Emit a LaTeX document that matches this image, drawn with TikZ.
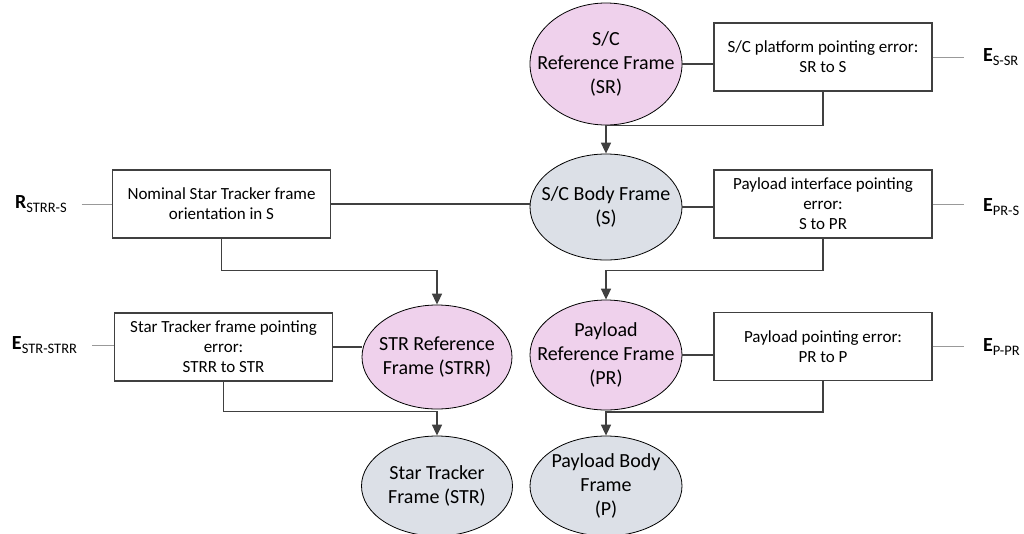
\documentclass[tikz,border=0pt]{standalone}
\usepackage{fontspec}
\setmainfont{Carlito}
\usetikzlibrary{arrows.meta,shapes.geometric}
\definecolor{refpink}{RGB}{239,209,236}
\definecolor{bodygray}{RGB}{220,224,231}
\definecolor{linegray}{RGB}{64,64,64}
\newcommand{\errlbl}[2]{\textbf{#1}\raisebox{-3.5pt}{\fontsize{14.5}{14.5}\selectfont #2}}

\begin{document}
\begin{tikzpicture}[x=1pt,y=-1pt,
  frame/.style={draw=black,line width=0.8pt,ellipse,inner xsep=-25pt,inner ysep=-15pt,align=center,
    font=\fontsize{20}{24}\selectfont,minimum width=152pt,minimum height=106pt},
  errbox/.style={draw=linegray,line width=1.2pt,rectangle,inner sep=0pt,align=center,
    font=\fontsize{17}{20}\selectfont,minimum width=218pt,minimum height=68pt},
  lbl/.style={inner sep=0pt,outer xsep=15pt,font=\fontsize{20}{22}\selectfont},
  rlbl/.style={lbl,outer xsep=19pt,anchor=west},
  conn/.style={draw=linegray,line width=1.6pt},
  thinconn/.style={draw=gray!80,line width=0.8pt},
  tip/.style={-{Triangle[width=10pt,length=11pt]}}]
\useasboundingbox (0,0) rectangle (1024,533);
\node[frame,fill=refpink,minimum height=122pt] (sr) at (606,64) {S/C\\Reference Frame\\(SR)};
\node[errbox] (srerr) at (823,57) {S/C platform pointing error:\\SR to S};
\node[rlbl] (esr) at (964,57) {\errlbl{E}{S-SR}};
\node[frame,fill=bodygray] (s) at (606,207) {S/C Body Frame\\(S)};
\node[errbox] (nom) at (221.5,204) {Nominal Star Tracker frame\\orientation in S};
\node[lbl,anchor=west] (rstrr) at (0,204) {\errlbl{R}{STRR-S}};
\node[errbox] (prerr) at (823,204) {Payload interface pointing\\error:\\S to PR};
\node[rlbl] (eprs) at (964,207) {\errlbl{E}{PR-S}};
\node[frame,fill=refpink,minimum width=150pt,minimum height=104pt] (strr) at (437,357) {STR Reference\\Frame (STRR)};
\node[errbox] (strerr) at (223.5,347) {Star Tracker frame pointing\\error:\\STRR to STR};
\node[lbl,anchor=west] (estr) at (-3,345) {\errlbl{E}{STR-STRR}};
\node[frame,fill=refpink,minimum height=110pt] (pr) at (606,355) {Payload\\Reference Frame\\(PR)};
\node[errbox] (perr) at (823,346.5) {Payload pointing error:\\PR to P};
\node[rlbl] (eppr) at (964,347) {\errlbl{E}{P-PR}};
\node[frame,fill=bodygray,minimum width=151pt,minimum height=100pt] (str) at (437,486) {Star Tracker\\Frame (STR)};
\node[frame,fill=bodygray,minimum height=100pt] (p) at (606,486) {Payload Body\\Frame\\(P)};

\draw[conn] (sr.east) -- (sr.east -| srerr.west);
\draw[conn,tip] (srerr.south) -- ++(0,34) -| (s.north);
\draw[conn] (nom.east) -- (nom.east -| s.west);
\draw[conn] (s.east) -- (s.east -| prerr.west);
\draw[conn,tip] (nom.south) -- ++(0,32) -| (strr.north);
\draw[conn,tip] (prerr.south) -- ++(0,32) -| (pr.north);
\draw[conn] (strerr.east) -- (strerr.east -| strr.west);
\draw[conn] (pr.east) -- (pr.east -| perr.west);
\draw[conn,tip] (strerr.south) -- ++(0,30) -| (str.north);
\draw[conn,tip] (perr.south) -- ++(0,31) -| (p.north);

\draw[thinconn] (srerr.east) -- (esr.west);
\draw[thinconn] (prerr.east) -- (prerr.east -| eprs.west);
\draw[thinconn] (perr.east) -- (perr.east -| eppr.west);
\draw[thinconn] (rstrr.east) -- (rstrr.east -| nom.west);
\draw[thinconn] (estr.east) -- (estr.east -| strerr.west);
\end{tikzpicture}
\end{document}
